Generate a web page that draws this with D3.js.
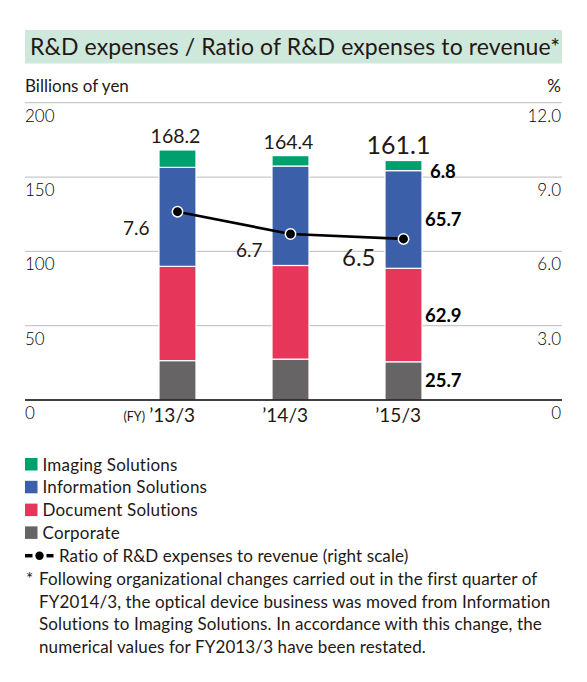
<!DOCTYPE html>
<html>
<head>
<meta charset="utf-8">
<script src="https://cdn.jsdelivr.net/npm/d3@7"></script>
<style>
  body { margin: 0; background: #fff; }
  svg { display: block; font-family: Lato, "Noto Sans", sans-serif; }
</style>
</head>
<body>
<script>
// data
var years = ["’13/3", "’14/3", "’15/3"];
var corporate = [26.5, 27.5, 25.7];
var documentSol = [63.4, 63.0, 62.9];
var information = [66.6, 66.9, 65.7];
var imaging = [11.7, 7.0, 6.8];
var totals = [168.2, 164.4, 161.1];
var ratio = [7.6, 6.7, 6.5];
var leftTicks = [0, 50, 100, 150, 200];
var rightTicks = [0, 3, 6, 9, 12];

var seriesNames = ["Corporate", "Document Solutions", "Information Solutions", "Imaging Solutions"];
var seriesColors = ["#666464", "#e6375b", "#3c5fa9", "#00a06e"];
var legendOrder = [3, 2, 1, 0];

var footnote = [
  "Following organizational changes carried out in the first quarter of",
  "FY2014/3, the optical device business was moved from Information",
  "Solutions to Imaging Solutions. In accordance with this change, the",
  "numerical values for FY2013/3 have been restated."
];

var W = 587, H = 682;
var ink = "#231815";
var left = 25, right = 562;
var barW = 37;

var svg = d3.select("body").append("svg")
  .attr("width", W)
  .attr("height", H);

// title band
svg.append("rect")
  .attr("x", left).attr("y", 30)
  .attr("width", right - left).attr("height", 33.5)
  .attr("fill", "#cfe8dc");
svg.append("text")
  .attr("x", 30).attr("y", 55)
  .attr("font-size", 23)
  .attr("letter-spacing", 0.1)
  .attr("fill", ink)
  .text("R&D expenses / Ratio of R&D expenses to revenue*");

svg.append("text")
  .attr("x", left).attr("y", 91.5)
  .attr("font-size", 17)
  .attr("fill", ink)
  .text("Billions of yen");
svg.append("text")
  .attr("x", right - 1).attr("y", 91.5)
  .attr("text-anchor", "end")
  .attr("font-size", 17)
  .attr("fill", ink)
  .text("%");

var y = d3.scaleLinear().domain([0, 200]).range([400, 102.7]);
var yR = d3.scaleLinear().domain([0, 12]).range([400, 102.7]);
var x = d3.scalePoint().domain(years).range([177.5, 403.5]);

// grid lines
svg.append("g").selectAll("line")
  .data(leftTicks.filter(function (d) { return d > 0; }))
  .enter().append("line")
  .attr("x1", left).attr("x2", right)
  .attr("y1", function (d) { return y(d); })
  .attr("y2", function (d) { return y(d); })
  .attr("stroke", "#c9c9c9")
  .attr("stroke-width", 1.2);

// tick labels sit below their grid line
svg.append("g").selectAll("text")
  .data(leftTicks)
  .enter().append("text")
  .attr("x", left)
  .attr("y", function (d) { return y(d) + 19; })
  .attr("font-size", 17)
  .attr("font-weight", 300)
  .attr("fill", "#000")
  .text(function (d) { return d; });

svg.append("g").selectAll("text")
  .data(rightTicks)
  .enter().append("text")
  .attr("x", right - 1)
  .attr("y", function (d) { return yR(d) + 19; })
  .attr("text-anchor", "end")
  .attr("font-size", 17)
  .attr("font-weight", 300)
  .attr("fill", "#000")
  .text(function (d) { return d === 0 ? "0" : d3.format(".1f")(d); });

// stacked bars
var table = years.map(function (yr, i) {
  return { year: yr, Corporate: corporate[i], "Document Solutions": documentSol[i],
    "Information Solutions": information[i], "Imaging Solutions": imaging[i] };
});
var stack = d3.stack().keys(seriesNames)(table);

var layers = svg.append("g").selectAll("g")
  .data(stack)
  .enter().append("g")
  .attr("fill", function (d, i) { return seriesColors[i]; });

layers.selectAll("rect")
  .data(function (d) { return d; })
  .enter().append("rect")
  .attr("x", function (d) { return x(d.data.year) - barW / 2; })
  .attr("y", function (d) { return y(d[1]); })
  .attr("width", barW)
  .attr("height", function (d) { return y(d[0]) - y(d[1]); })
  .attr("stroke", "#fff")
  .attr("stroke-width", 1.2);

// x axis
svg.append("line")
  .attr("x1", left).attr("x2", right)
  .attr("y1", y(0)).attr("y2", y(0))
  .attr("stroke", "#000")
  .attr("stroke-width", 1.5);

svg.append("g").selectAll("text")
  .data(years)
  .enter().append("text")
  .attr("x", function (d) { return x(d) + barW / 2 - 1; })
  .attr("y", 421.5)
  .attr("text-anchor", "end")
  .attr("font-size", 19)
  .attr("fill", ink)
  .text(function (d) { return d; });
svg.append("text")
  .attr("x", 145).attr("y", 421)
  .attr("text-anchor", "end")
  .attr("font-size", 12.5)
  .attr("fill", ink)
  .text("(FY)");

// totals above bars, latest year emphasised
var last = years.length - 1;
svg.append("g").selectAll("text")
  .data(totals)
  .enter().append("text")
  .attr("x", function (d, i) { return x(years[i]) - (i === last ? 5 : 2); })
  .attr("y", function (d) { return y(d) - 7; })
  .attr("text-anchor", "middle")
  .attr("font-size", function (d, i) { return i === last ? 25 : 19.5; })
  .attr("fill", ink)
  .text(function (d) { return d3.format(".1f")(d); });

// segment values for the latest year
var lastStack = stack.map(function (s, k) { return { key: s.key, k: k, v: s[last] }; });
svg.append("g").selectAll("text")
  .data(lastStack)
  .enter().append("text")
  .attr("x", function (d) { return x(years[last]) + barW / 2 + (d.k === 3 ? 8 : 3); })
  .attr("y", function (d) {
    if (d.k === 3) return y(d.v[0]) + 7;
    return (y(d.v[0]) + y(d.v[1])) / 2 + 6.5;
  })
  .attr("font-size", 18.5)
  .attr("font-weight", 700)
  .attr("fill", "#000")
  .text(function (d) { return d3.format(".1f")(d.v[1] - d.v[0]); });

// ratio line
var line = d3.line()
  .x(function (d, i) { return x(years[i]); })
  .y(function (d) { return yR(d); });

svg.append("path")
  .datum(ratio)
  .attr("d", line)
  .attr("fill", "none")
  .attr("stroke", "#000")
  .attr("stroke-width", 2.7);

svg.append("g").selectAll("circle")
  .data(ratio)
  .enter().append("circle")
  .attr("cx", function (d, i) { return x(years[i]); })
  .attr("cy", function (d) { return yR(d); })
  .attr("r", 5.2)
  .attr("fill", "#000")
  .attr("stroke", "#fff")
  .attr("stroke-width", 1.5);

svg.append("g").selectAll("text")
  .data(ratio)
  .enter().append("text")
  .attr("x", function (d, i) { return x(years[i]) - 28; })
  .attr("y", function (d, i) { return yR(d) + (i === last ? 27 : 23); })
  .attr("text-anchor", "end")
  .attr("font-size", function (d, i) { return i === last ? 24 : 19; })
  .attr("fill", ink)
  .text(function (d) { return d3.format(".1f")(d); });

// legend
var legend = svg.append("g").selectAll("g")
  .data(legendOrder)
  .enter().append("g")
  .attr("transform", function (d, i) { return "translate(0," + (458 + i * 22.8) + ")"; });
legend.append("rect")
  .attr("x", left).attr("y", 0)
  .attr("width", 12.5).attr("height", 12.5)
  .attr("fill", function (d) { return seriesColors[d]; });
legend.append("text")
  .attr("x", 42.5).attr("y", 12.5)
  .attr("font-size", 17)
  .attr("letter-spacing", 0.2)
  .attr("fill", ink)
  .text(function (d) { return seriesNames[d]; });

var ly = 458 + 4 * 22.8 + 6.5;
svg.append("line")
  .attr("x1", left).attr("x2", 32.5)
  .attr("y1", ly).attr("y2", ly)
  .attr("stroke", "#000").attr("stroke-width", 3.5);
svg.append("line")
  .attr("x1", 46.5).attr("x2", 53.5)
  .attr("y1", ly).attr("y2", ly)
  .attr("stroke", "#000").attr("stroke-width", 3.5);
svg.append("circle")
  .attr("cx", 39.5).attr("cy", ly).attr("r", 4.2)
  .attr("fill", "#000");
svg.append("text")
  .attr("x", 59).attr("y", ly + 6)
  .attr("font-size", 17)
  .attr("letter-spacing", 0.1)
  .attr("fill", ink)
  .text("Ratio of R&D expenses to revenue (right scale)");

// footnote
svg.append("text")
  .attr("x", 26).attr("y", 585)
  .attr("font-size", 17)
  .attr("fill", ink)
  .text("*");
svg.append("g").selectAll("text")
  .data(footnote)
  .enter().append("text")
  .attr("x", 39)
  .attr("y", function (d, i) { return 585 + i * 22.5; })
  .attr("font-size", 17)
  .attr("letter-spacing", 0.12)
  .attr("fill", ink)
  .text(function (d) { return d; });
</script>
</body>
</html>
